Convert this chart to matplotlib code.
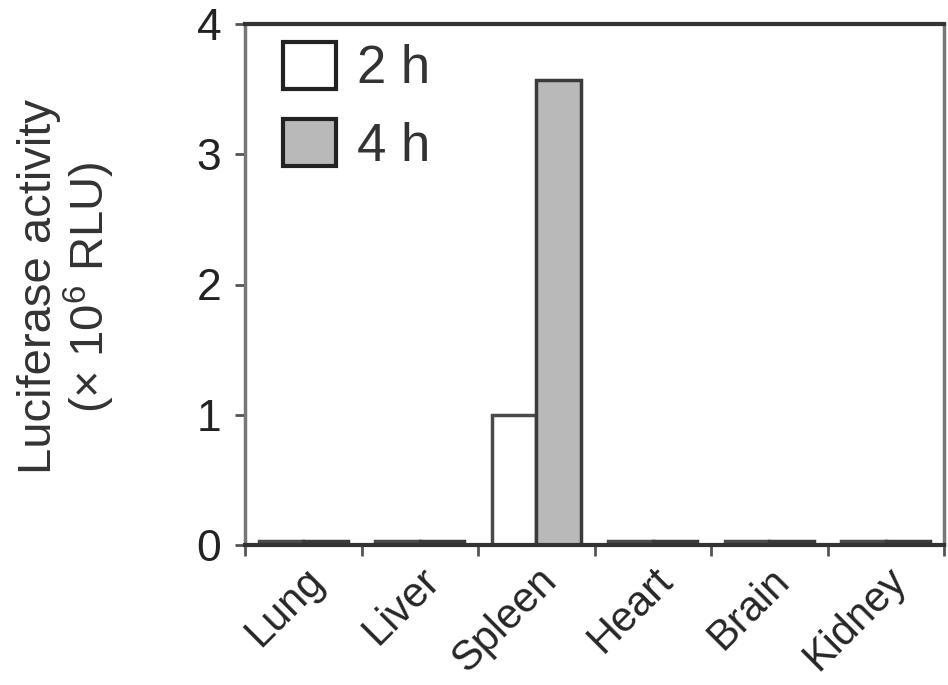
import matplotlib
matplotlib.use("Agg")
import matplotlib.pyplot as plt
import numpy as np

categories = ["Lung", "Liver", "Spleen", "Heart", "Brain", "Kidney"]
values_2h = [0.03, 0.03, 1.0, 0.03, 0.03, 0.03]
values_4h = [0.03, 0.03, 3.57, 0.03, 0.03, 0.03]
series_labels = ["2 h", "4 h"]
yticks = [0, 1, 2, 3, 4]

plt.rcParams['font.family'] = ['Liberation Sans', 'DejaVu Sans']
plt.rcParams['mathtext.fontset'] = 'custom'
plt.rcParams['mathtext.rm'] = 'Liberation Sans'

fig = plt.figure(figsize=(9.48, 6.85), dpi=100)
ax = fig.add_axes([245 / 948, 140 / 685, 699 / 948, 521 / 685])

x = np.arange(len(categories))
w = 0.38
ax.bar(x - w / 2, values_2h, width=w, color="white", edgecolor="#4a4a4a",
       linewidth=2.5, label=series_labels[0])
ax.bar(x + w / 2, values_4h, width=w, color="#b9b9b9", edgecolor="#3a3a3a",
       linewidth=2.5, label=series_labels[1])

ax.set_xlim(-0.5, len(categories) - 0.5)
ax.set_ylim(0, 4)
ax.set_yticks(yticks)
ax.set_yticklabels([str(t) for t in yticks], fontsize=32, color="#222222")
ax.tick_params(axis='y', direction='out', length=7, width=2, color="#555555", pad=10)

# category boundary ticks on x
ax.set_xticks(np.arange(-0.5, len(categories), 1.0), minor=False)
ax.set_xticklabels([])
ax.tick_params(axis='x', which='major', direction='out', length=8, width=2, color="#555555")
ax.set_xticks(x, minor=True)
ax.set_xticklabels(categories, minor=True, rotation=45, ha='right',
                   rotation_mode='anchor', fontsize=30, color="#262626")
ax.tick_params(axis='x', which='minor', length=0, pad=11)

for side in ["left", "right"]:
    ax.spines[side].set_color("#777777")
    ax.spines[side].set_linewidth(2.5)
for side in ["top", "bottom"]:
    ax.spines[side].set_color("#333333")
    ax.spines[side].set_linewidth(3)

fig.text(67 / 948, 1 - 287 / 685, "Luciferase activity\n(\u00d7 10$^{6}$ RLU)",
         fontsize=34, color="#333333", rotation=90, ha='center', va='center',
         linespacing=1.0, multialignment='center')

leg = ax.legend(loc='upper left', frameon=False, fontsize=38,
                handlelength=1.0, handleheight=1.0, handletextpad=0.4,
                labelspacing=0.47, borderpad=0, borderaxespad=0,
                bbox_to_anchor=(0.054, 0.966))
for h in leg.legend_handles:
    h.set_edgecolor("#222222")
    h.set_linewidth(3)
for t in leg.get_texts():
    t.set_color("#333333")

fig.savefig("out.png", dpi=100)
